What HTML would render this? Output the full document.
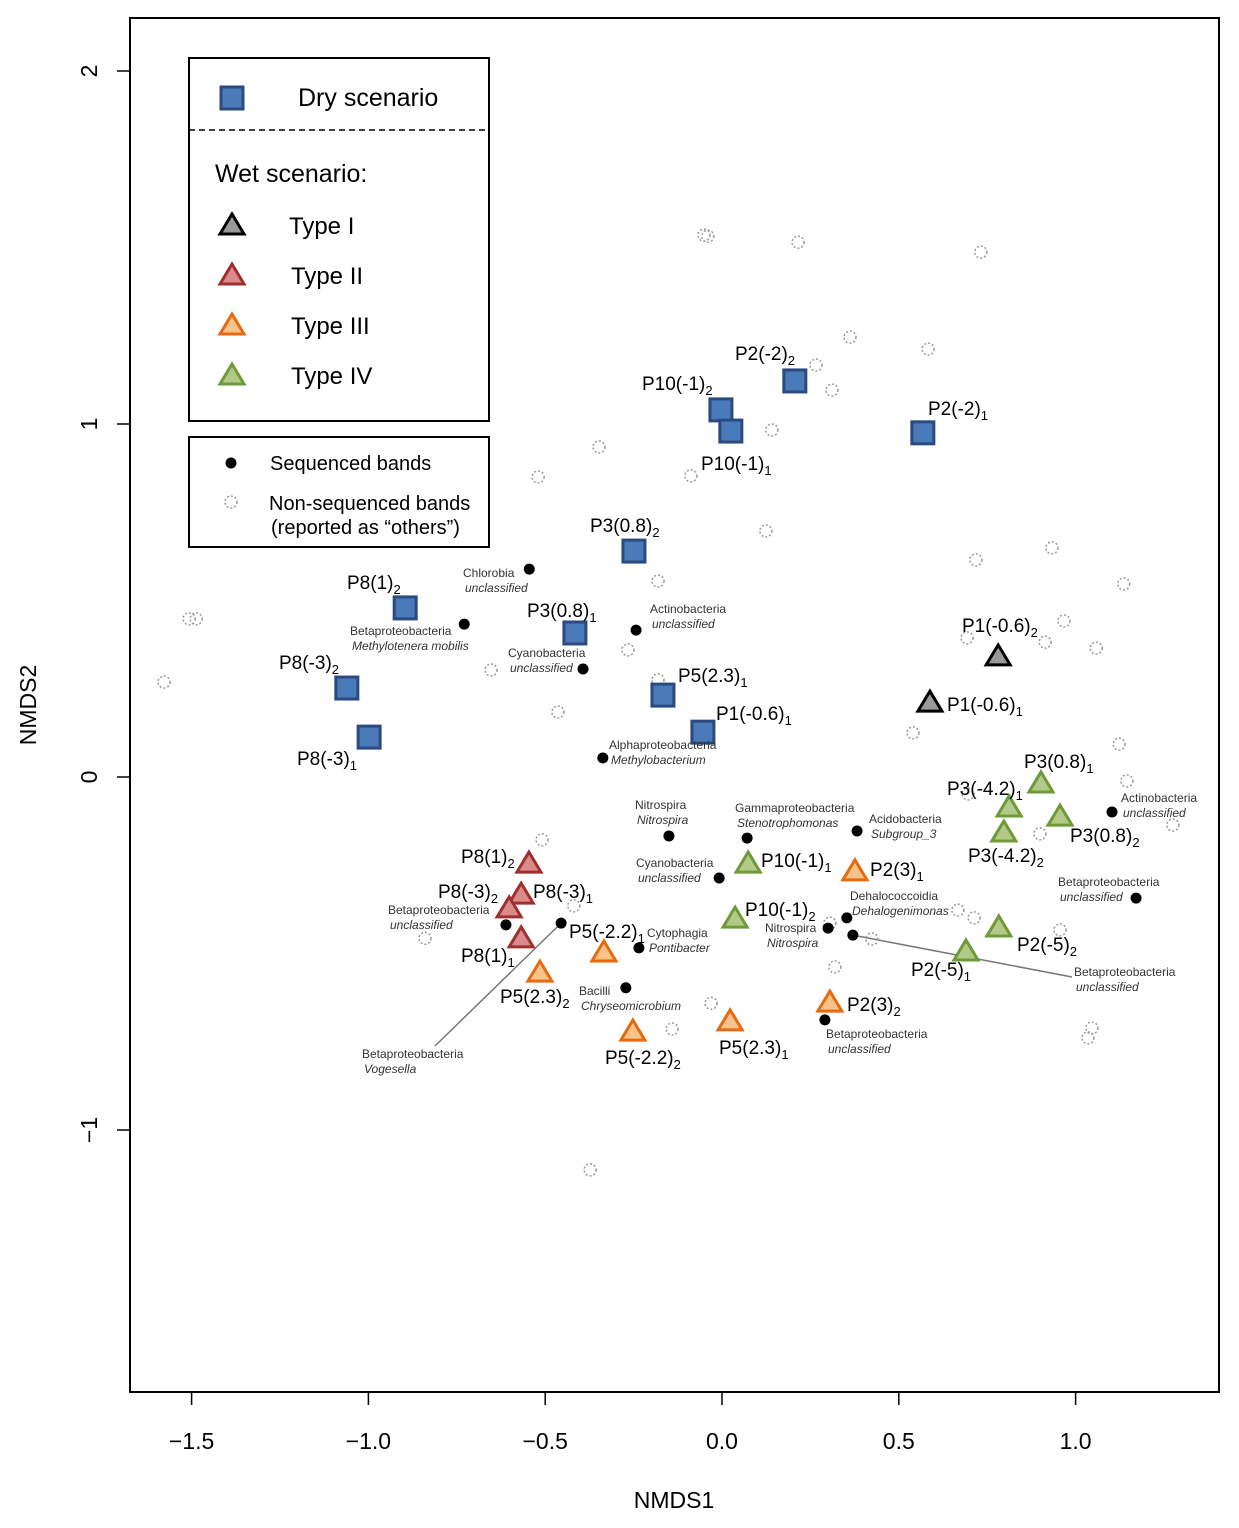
<!DOCTYPE html>
<html><head><meta charset="utf-8"><style>
body{margin:0;background:#fff}
svg{display:block;font-family:"Liberation Sans",sans-serif}
</style></head><body>
<svg id="chart" width="1239" height="1528" viewBox="0 0 1239 1528" xmlns="http://www.w3.org/2000/svg">
<rect x="130" y="18" width="1089" height="1374" fill="none" stroke="#000" stroke-width="2"/>
<g id="axes"></g>
<g id="lines"></g>
<g id="others"></g>
<g id="seq"></g>
<g id="marks"></g>
<g id="labels"></g>
<g id="legend">
<rect x="189" y="58" width="300" height="363" fill="#fff" stroke="#000" stroke-width="2"/>
<line x1="189" y1="130" x2="489" y2="130" stroke="#000" stroke-width="1.5" stroke-dasharray="6,4"/>
<rect x="221" y="87" width="22" height="22" fill="#4a7ab8" stroke="#2a4a80" stroke-width="3"/>
<text x="298" y="106" font-size="25">Dry scenario</text>
<text x="215" y="182" font-size="25">Wet scenario:</text>
<polygon points="232,214 244,234 220,234" fill="#999" stroke="#000" stroke-width="3"/>
<text x="289" y="234" font-size="24">Type I</text>
<polygon points="232,264 244,284 220,284" fill="#d98a8a" stroke="#a03030" stroke-width="3"/>
<text x="291" y="284" font-size="24">Type II</text>
<polygon points="232,314 244,334 220,334" fill="#f7c38a" stroke="#e66a10" stroke-width="3"/>
<text x="291" y="334" font-size="24">Type III</text>
<polygon points="232,364 244,384 220,384" fill="#b3c98a" stroke="#6f9a38" stroke-width="3"/>
<text x="291" y="384" font-size="24">Type IV</text>
<rect x="189" y="437" width="300" height="110" fill="#fff" stroke="#000" stroke-width="2"/>
<circle cx="231" cy="463" r="5.5" fill="#000"/>
<text x="270" y="470" font-size="20">Sequenced bands</text>
<circle cx="231" cy="502" r="6" fill="none" stroke="#999" stroke-width="1.5" stroke-dasharray="2,2"/>
<text x="269" y="510" font-size="20">Non-sequenced bands</text>
<text x="271" y="534" font-size="20">(reported as “others”)</text>
</g>
<text x="674" y="1508" font-size="23" text-anchor="middle">NMDS1</text>
<text transform="translate(36,705) rotate(-90)" font-size="23" text-anchor="middle">NMDS2</text>
</svg>
<script>
const xTicks=[-1.5,-1.0,-0.5,0.0,0.5,1.0];
const xTickLabels=["−1.5","−1.0","−0.5","0.0","0.5","1.0"];
const yTicks=[-1,0,1,2];
const yTickLabels=["−1","0","1","2"];
const dryX=[0.206,-0.003,0.025,0.568,-0.249,-0.416,-0.896,-0.167,-0.054,-1.061,-0.998];
const dryY=[1.122,1.040,0.980,0.975,0.640,0.408,0.479,0.232,0.127,0.252,0.113];
const t1X=[0.781,0.588];const t1Y=[0.346,0.215];
const t2X=[-0.546,-0.568,-0.602,-0.568];const t2Y=[-0.241,-0.329,-0.368,-0.453];
const t3X=[-0.334,-0.515,-0.252,0.023,0.305,0.376];const t3Y=[-0.493,-0.550,-0.717,-0.688,-0.635,-0.263];
const t4X=[0.902,0.812,0.956,0.797,0.074,0.037,0.783,0.690];const t4Y=[-0.014,-0.082,-0.108,-0.153,-0.241,-0.397,-0.422,-0.490];
const seqX=[-0.545,-0.729,-0.243,-0.393,-0.337,-0.150,0.071,0.382,-0.008,1.103,1.171,0.353,0.300,0.370,-0.611,-0.455,-0.235,-0.272,0.291];
const seqY=[0.589,0.433,0.416,0.306,0.054,-0.167,-0.173,-0.153,-0.286,-0.099,-0.343,-0.399,-0.428,-0.448,-0.419,-0.414,-0.484,-0.597,-0.688];
const othX=[-0.051,-0.040,0.215,0.732,0.362,0.583,0.266,0.311,0.141,-0.348,-0.520,-0.088,0.124,0.718,0.933,1.136,-0.181,-1.507,-1.487,0.967,0.693,0.914,1.058,-0.266,-0.653,-0.181,-1.578,-0.464,0.540,1.123,1.145,0.696,1.275,0.899,-0.509,-0.419,0.667,0.713,0.956,-0.840,0.424,0.305,0.319,-0.031,-0.141,1.046,1.035,-0.373];
const othY=[1.535,1.532,1.515,1.487,1.246,1.212,1.167,1.096,0.983,0.935,0.850,0.853,0.697,0.615,0.649,0.547,0.555,0.448,0.448,0.442,0.394,0.382,0.365,0.360,0.303,0.275,0.269,0.184,0.125,0.093,-0.011,-0.048,-0.136,-0.161,-0.178,-0.365,-0.377,-0.399,-0.433,-0.457,-0.459,-0.414,-0.538,-0.641,-0.714,-0.711,-0.739,-1.113];
const X=v=>722+v*353.6, Y=v=>777-v*353;
const NS="http://www.w3.org/2000/svg";
function mk(tag,attrs,parent){const e=document.createElementNS(NS,tag);for(const k in attrs)e.setAttribute(k,attrs[k]);document.getElementById(parent).appendChild(e);return e;}
xTicks.forEach((v,i)=>{
 const l=mk('line',{x1:X(v),x2:X(v),y1:1392,y2:1405,stroke:'#000','stroke-width':1.5},'axes');
 
 
 const t=mk('text',{x:X(v),y:1449,'font-size':23,'text-anchor':'middle'},'axes');t.textContent=xTickLabels[i];
 
 
});
yTicks.forEach((v,i)=>{
 const l=mk('line',{x1:117,x2:130,y1:Y(v),y2:Y(v),stroke:'#000','stroke-width':1.5},'axes');
 
 
 const t=mk('text',{transform:`translate(97,${Y(v)}) rotate(-90)`,'font-size':23,'text-anchor':'middle'},'axes');t.textContent=yTickLabels[i];
 
 
});
othX.forEach((v,i)=>{const c=mk('circle',{cx:X(v),cy:Y(othY[i]),r:6,fill:'none',stroke:'#999','stroke-width':1.5,'stroke-dasharray':'2,2'},'others');
 
 });
[[435,1046,seqX[15],seqY[15]],[1072,977,seqX[13],seqY[13]]].forEach(a=>{mk('line',{x1:a[0],y1:a[1],x2:X(a[2]),y2:Y(a[3]),stroke:'#777','stroke-width':1.5},'lines');});
seqX.forEach((v,i)=>{const c=mk('circle',{cx:X(v),cy:Y(seqY[i]),r:5.5,fill:'#000'},'seq');
 
 });
dryX.forEach((v,i)=>{const r=mk('rect',{x:X(v)-11,y:Y(dryY[i])-11,width:22,height:22,fill:'#4a7ab8',stroke:'#2a4a80','stroke-width':3},'marks');
 
 });
function tri(xs,ys,fill,stroke,name){xs.forEach((v,i)=>{const cx=X(v),cy=Y(ys[i]);
 const p=mk('polygon',{points:`${cx},${cy-10} ${cx+12},${cy+10} ${cx-12},${cy+10}`,fill:fill,stroke:stroke,'stroke-width':3},'marks');
 
 });}
tri(t1X,t1Y,'#999','#000','type-i-point');
tri(t2X,t2Y,'#d98a8a','#a03030','type-ii-point');
tri(t3X,t3Y,'#f7c38a','#e66a10','type-iii-point');
tri(t4X,t4Y,'#b3c98a','#6f9a38','type-iv-point');
const ptLabels=[[735,360,"P2(-2)","2"],[642,390,"P10(-1)","2"],[928,415,"P2(-2)","1"],[701,470,"P10(-1)","1"],[590,532,"P3(0.8)","2"],[347,589,"P8(1)","2"],[527,617,"P3(0.8)","1"],[279,669,"P8(-3)","2"],[678,682,"P5(2.3)","1"],[716,720,"P1(-0.6)","1"],[297,765,"P8(-3)","1"],[962,632,"P1(-0.6)","2"],[947,711,"P1(-0.6)","1"],[1024,768,"P3(0.8)","1"],[947,795,"P3(-4.2)","1"],[1070,842,"P3(0.8)","2"],[968,862,"P3(-4.2)","2"],[761,867,"P10(-1)","1"],[870,876,"P2(3)","1"],[461,863,"P8(1)","2"],[438,898,"P8(-3)","2"],[533,898,"P8(-3)","1"],[745,916,"P10(-1)","2"],[569,938,"P5(-2.2)","1"],[1017,951,"P2(-5)","2"],[461,962,"P8(1)","1"],[911,976,"P2(-5)","1"],[500,1003,"P5(2.3)","2"],[847,1011,"P2(3)","2"],[719,1054,"P5(2.3)","1"],[605,1064,"P5(-2.2)","2"]];
ptLabels.forEach(a=>{const t=mk('text',{x:a[0],y:a[1],'font-size':19},'labels');
 t.innerHTML=`${a[2]}<tspan font-size="13" dy="5">${a[3]}</tspan>`;
 
 });
const taxa=[[463,577,"Chlorobia","unclassified"],[350,635,"Betaproteobacteria","Methylotenera mobilis"],[650,613,"Actinobacteria","unclassified"],[508,657,"Cyanobacteria","unclassified"],[609,749,"Alphaproteobacteria","Methylobacterium"],[635,809,"Nitrospira","Nitrospira"],[735,812,"Gammaproteobacteria","Stenotrophomonas"],[869,823,"Acidobacteria","Subgroup_3"],[1121,802,"Actinobacteria","unclassified"],[636,867,"Cyanobacteria","unclassified"],[1058,886,"Betaproteobacteria","unclassified"],[850,900,"Dehalococcoidia","Dehalogenimonas"],[765,932,"Nitrospira","Nitrospira"],[388,914,"Betaproteobacteria","unclassified"],[647,937,"Cytophagia","Pontibacter"],[579,995,"Bacilli","Chryseomicrobium"],[1074,976,"Betaproteobacteria","unclassified"],[826,1038,"Betaproteobacteria","unclassified"],[362,1058,"Betaproteobacteria","Vogesella"]];
taxa.forEach(a=>{const g=mk('text',{x:a[0],y:a[1],'font-size':12,fill:'#333'},'labels');
 g.innerHTML=`${a[2]}<tspan x="${a[0]+2}" dy="15" font-style="italic">${a[3]}</tspan>`;
 
 });
</script>
</body></html>
